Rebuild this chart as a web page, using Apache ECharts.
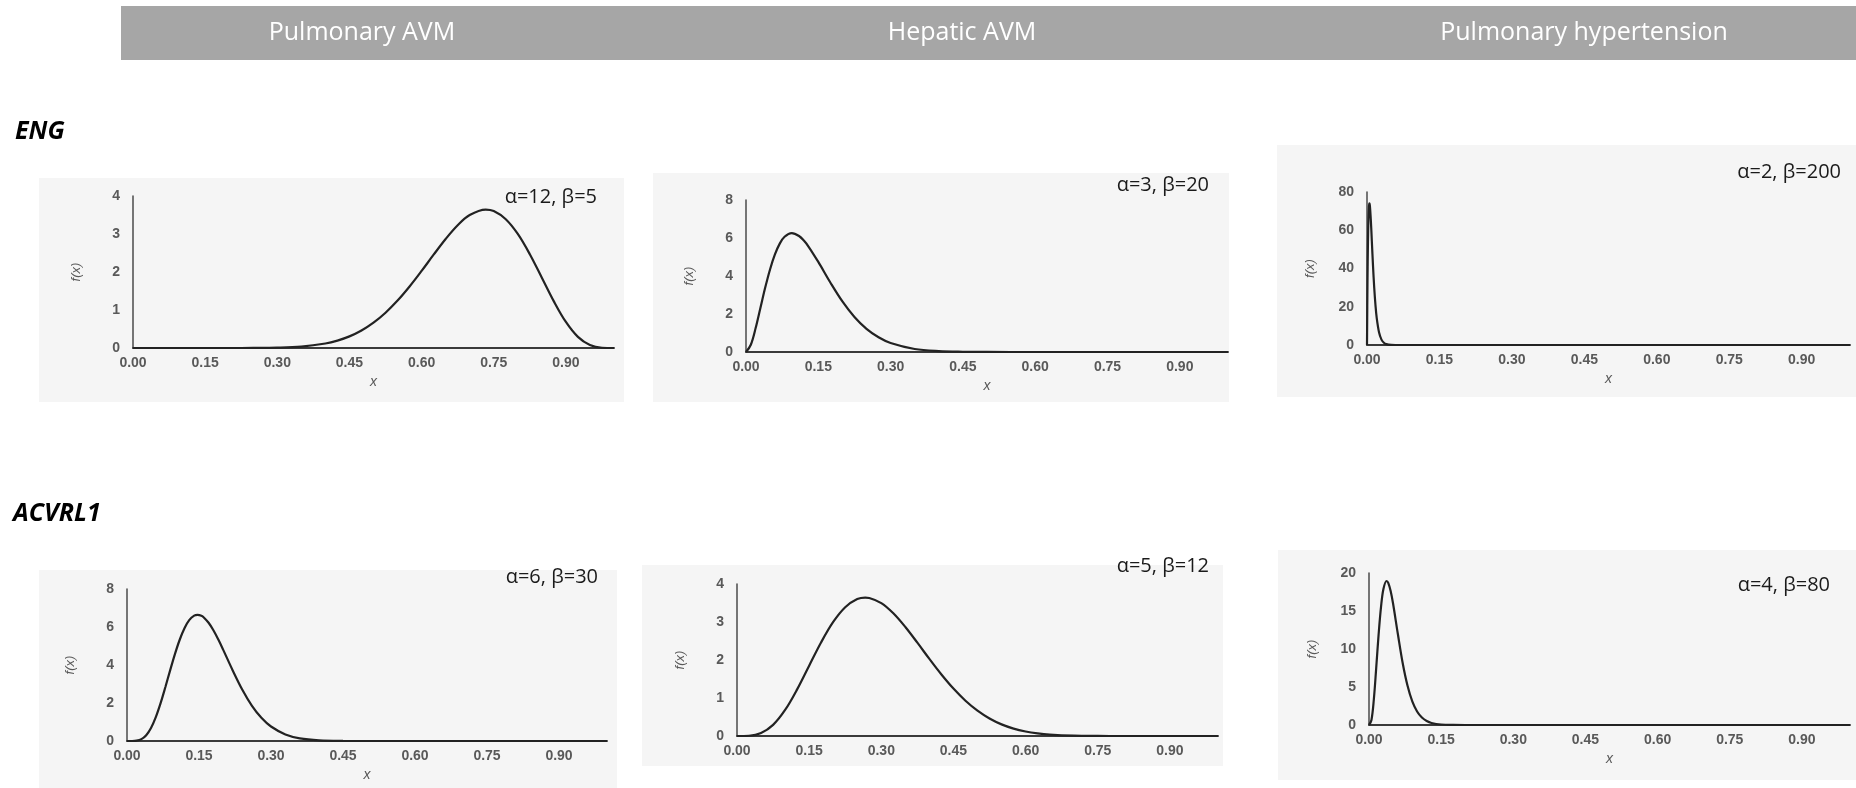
<!DOCTYPE html>
<html>
<head>
<meta charset="utf-8">
<script src="https://cdn.jsdelivr.net/npm/echarts@6/dist/echarts.min.js"></script>
<style>
  html, body { margin: 0; padding: 0; background: #ffffff; }
  #chart { width: 1856px; height: 788px; }
</style>
</head>
<body>
<div id="chart"></div>
<script>
// ---------- data ----------
const panelTitles = ['Pulmonary AVM', 'Hepatic AVM', 'Pulmonary hypertension'];
const geneLabels = ['ENG', 'ACVRL1'];
const paramLabels = ['α=12, β=5', 'α=3, β=20', 'α=2, β=200', 'α=6, β=30', 'α=5, β=12', 'α=4, β=80'];
const yMaxValues = [4, 8, 80, 8, 4, 20];
const yStepValues = [1, 2, 20, 2, 1, 5];
const xMin = 0, xMax = 1, xStep = 0.15;
const xAxisTitle = 'x';
const yAxisTitle = 'f(x)';
const showXTitle = [true, true, true, true, false, true];

// ENG – Pulmonary AVM (α=12, β=5)
const engPulmonaryAVM = [[0,0],[0.1,0],[0.2,0.0002],[0.25,0.0017],[0.3,0.0093],[0.35,0.038],[0.4,0.119],[0.425,0.195],[0.45,0.306],[0.475,0.461],[0.5,0.667],[0.525,0.929],[0.55,1.248],[0.575,1.619],[0.6,2.028],[0.625,2.455],[0.65,2.868],[0.675,3.230],[0.7,3.498],[0.7333,3.643],[0.75,3.603],[0.775,3.390],[0.8,3.002],[0.825,2.468],[0.85,1.850],[0.875,1.227],[0.9,0.685],[0.925,0.293],[0.95,0.078],[0.975,0.0065],[1,0]];
// ENG – Hepatic AVM (α=3, β=20)
const engHepaticAVM = [[0,0],[0.01,0.382],[0.02,1.259],[0.03,2.331],[0.04,3.403],[0.05,4.358],[0.06,5.133],[0.07,5.703],[0.08,6.064],[0.095,6.258],[0.11,6.108],[0.12,5.864],[0.13,5.539],[0.15,4.740],[0.175,3.659],[0.2,2.663],[0.225,1.845],[0.25,1.220],[0.275,0.776],[0.3,0.474],[0.35,0.158],[0.4,0.045],[0.45,0.011],[0.5,0.002],[0.6,0],[1,0]];
// ENG – Pulmonary hypertension (α=2, β=200)
const engPulmonaryHypertension = [[0,0],[0.001,32.9],[0.002,54.0],[0.003,66.3],[0.004,72.4],[0.005,74.1],[0.006,72.8],[0.008,65.0],[0.01,54.4],[0.0125,41.1],[0.015,29.8],[0.0175,21.0],[0.02,14.4],[0.025,6.52],[0.03,2.81],[0.035,1.17],[0.04,0.48],[0.05,0.074],[0.06,0.011],[0.08,0],[1,0]];
// ACVRL1 – Pulmonary AVM (α=6, β=30)
const acvrl1PulmonaryAVM = [[0,0],[0.01,0.0007],[0.02,0.017],[0.03,0.098],[0.04,0.305],[0.05,0.688],[0.06,1.259],[0.07,1.995],[0.08,2.843],[0.09,3.731],[0.1,4.587],[0.11,5.342],[0.12,5.948],[0.13,6.371],[0.14,6.600],[0.147,6.640],[0.155,6.591],[0.16,6.504],[0.17,6.222],[0.18,5.827],[0.19,5.349],[0.2,4.822],[0.22,3.727],[0.24,2.711],[0.26,1.867],[0.28,1.221],[0.3,0.762],[0.33,0.345],[0.36,0.141],[0.4,0.037],[0.45,0.0053],[0.5,0.0006],[1,0]];
// ACVRL1 – Hepatic AVM (α=5, β=12)
const acvrl1HepaticAVM = [[0,0],[0.025,0.0065],[0.05,0.078],[0.075,0.293],[0.1,0.685],[0.125,1.227],[0.15,1.850],[0.175,2.468],[0.2,3.002],[0.225,3.390],[0.25,3.603],[0.2667,3.643],[0.275,3.633],[0.3,3.498],[0.325,3.230],[0.35,2.868],[0.375,2.455],[0.4,2.028],[0.425,1.619],[0.45,1.248],[0.475,0.929],[0.5,0.667],[0.525,0.461],[0.55,0.306],[0.575,0.195],[0.6,0.119],[0.625,0.069],[0.65,0.038],[0.7,0.0093],[0.75,0.0017],[0.8,0.0002],[1,0]];
// ACVRL1 – Pulmonary hypertension (α=4, β=80)
const acvrl1PulmonaryHypertension = [[0,0],[0.005,0.618],[0.01,3.323],[0.015,7.518],[0.02,11.92],[0.025,15.54],[0.03,17.89],[0.0366,18.95],[0.04,18.71],[0.045,17.63],[0.05,15.98],[0.06,11.97],[0.07,8.16],[0.08,5.19],[0.09,3.11],[0.1,1.784],[0.11,0.983],[0.12,0.523],[0.13,0.269],[0.15,0.066],[0.175,0.0099],[0.2,0.0013],[1,0]];

const panelData = [engPulmonaryAVM, engHepaticAVM, engPulmonaryHypertension,
                   acvrl1PulmonaryAVM, acvrl1HepaticAVM, acvrl1PulmonaryHypertension];

// ---------- layout ----------
const gridBoxes = [
  {left: 133, top: 196, width: 481, height: 152},
  {left: 746, top: 200, width: 482, height: 152},
  {left: 1367, top: 192, width: 483, height: 153},
  {left: 127, top: 589, width: 480, height: 152},
  {left: 737, top: 584, width: 481, height: 152},
  {left: 1369, top: 573, width: 481, height: 152}
];
const panelBgs = [
  {x: 39, y: 178, w: 585, h: 224},
  {x: 653, y: 173, w: 576, h: 229},
  {x: 1277, y: 145, w: 579, h: 252},
  {x: 39, y: 570, w: 578, h: 218},
  {x: 642, y: 565, w: 581, h: 201},
  {x: 1278, y: 550, w: 578, h: 230}
];
const annoPos = [[597, 197], [1209, 185], [1841, 172], [598, 577], [1209, 566], [1830, 585]];
const headerCenters = [362, 962, 1584];
const genePos = [[15, 132], [13, 514]];

const tickColor = '#595959';
const axisColor = '#3a3a3a';

const grids = [], xAxes = [], yAxes = [], series = [];
gridBoxes.forEach((g, i) => {
  grids.push(Object.assign({outerBoundsMode: 'none', containLabel: false}, g));
  xAxes.push({
    type: 'value', gridIndex: i, min: xMin, max: xMax, interval: xStep,
    name: showXTitle[i] ? xAxisTitle : '', nameLocation: 'middle', nameGap: 27,
    nameTextStyle: {fontStyle: 'italic', fontSize: 14, color: tickColor, fontFamily: 'Liberation Sans'},
    axisLine: {show: true, onZero: false, lineStyle: {color: axisColor, width: 2}},
    axisTick: {show: false}, splitLine: {show: false},
    axisLabel: {
      show: true, margin: 8, fontSize: 14, fontWeight: 'bold', color: tickColor,
      fontFamily: 'Liberation Sans', showMaxLabel: false,
      formatter: v => (v > 0.95 ? '' : v.toFixed(2))
    }
  });
  yAxes.push({
    type: 'value', gridIndex: i, min: 0, max: yMaxValues[i], interval: yStepValues[i],
    name: yAxisTitle, nameLocation: 'middle', nameGap: 50,
    nameTextStyle: {fontStyle: 'italic', fontSize: 13, color: tickColor, fontFamily: 'Liberation Sans'},
    axisLine: {show: true, onZero: false, lineStyle: {color: '#4a4a4a', width: 1.5}},
    axisTick: {show: false}, splitLine: {show: false},
    axisLabel: {margin: 13, fontSize: 14, fontWeight: 'bold', color: tickColor, fontFamily: 'Liberation Sans'}
  });
  series.push({
    type: 'line', xAxisIndex: i, yAxisIndex: i, data: panelData[i],
    showSymbol: false, smooth: 0.35, z: 5,
    lineStyle: {color: '#222222', width: 2.2},
    emphasis: {disabled: true}
  });
});

const graphic = [];
graphic.push({type: 'rect', z: -100, shape: {x: 121, y: 6, width: 1735, height: 54}, style: {fill: '#a6a6a6'}});
panelTitles.forEach((t, i) => {
  graphic.push({type: 'text', z: 100, x: headerCenters[i], y: 33,
    style: {text: t, fill: '#ffffff', font: '25px "Open Sans"', align: 'center', verticalAlign: 'middle'}});
});
geneLabels.forEach((t, i) => {
  graphic.push({type: 'text', z: 100, x: genePos[i][0], y: genePos[i][1],
    style: {text: t, fill: '#000000', font: 'italic bold 25px "Open Sans"', align: 'left', verticalAlign: 'middle'}});
});
panelBgs.forEach(b => {
  graphic.push({type: 'rect', z: -100, shape: {x: b.x, y: b.y, width: b.w, height: b.h}, style: {fill: '#f5f5f5'}});
});
paramLabels.forEach((t, i) => {
  graphic.push({type: 'text', z: 100, x: annoPos[i][0], y: annoPos[i][1],
    style: {text: t, fill: '#1a1a1a', font: '20px "Open Sans"', align: 'right', verticalAlign: 'middle'}});
});

const chart = echarts.init(document.getElementById('chart'), null, {renderer: 'canvas'});
chart.setOption({
  animation: false,
  backgroundColor: '#ffffff',
  grid: grids, xAxis: xAxes, yAxis: yAxes, series: series,
  graphic: graphic
});
</script>
</body>
</html>
